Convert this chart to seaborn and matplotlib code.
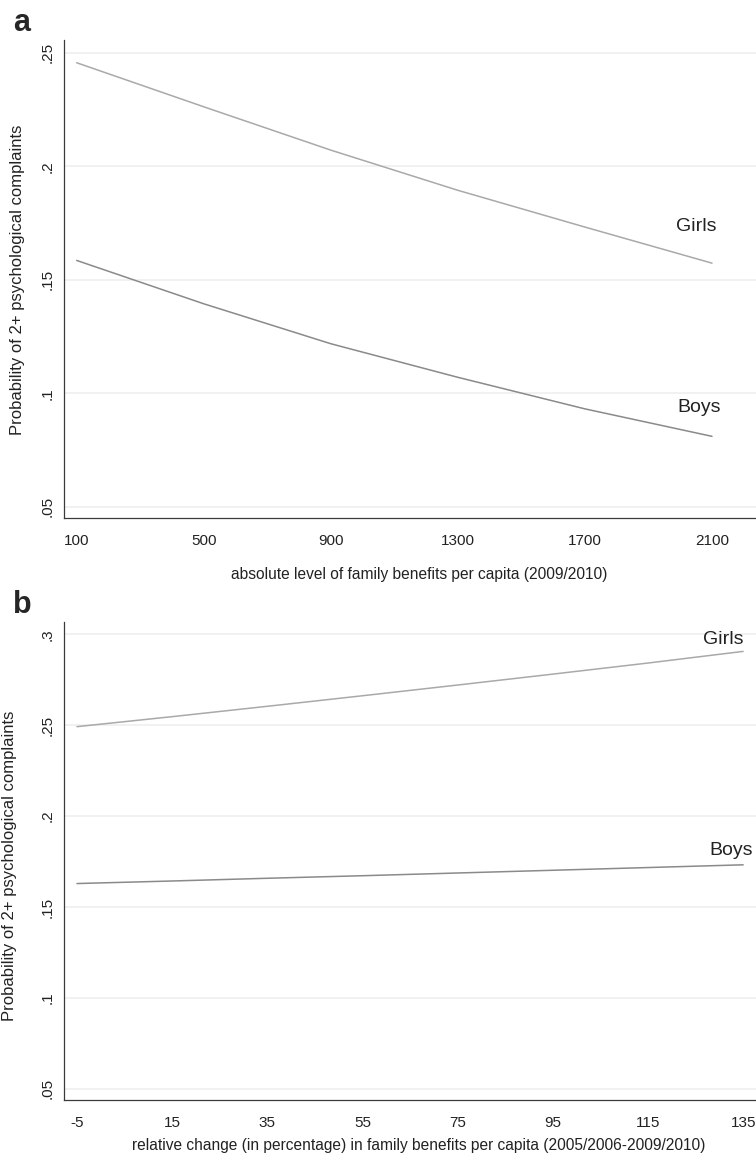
import pandas as pd
import seaborn as sns
import matplotlib.pyplot as plt

# panel a: absolute level of family benefits
benefit_level = [100, 500, 900, 1300, 1700, 2100]
girls_level = [0.2456, 0.2262, 0.2071, 0.1894, 0.1732, 0.1573]
boys_level = [0.1585, 0.1394, 0.1218, 0.1070, 0.0931, 0.0810]

# panel b: relative change in family benefits
benefit_change = [-5, 15, 35, 55, 75, 95, 115, 135]
girls_change = [0.2492, 0.2547, 0.2604, 0.2662, 0.2721, 0.2781, 0.2842, 0.2906]
boys_change = [0.1629, 0.1643, 0.1658, 0.1672, 0.1687, 0.1702, 0.1717, 0.1732]

yticks_a = [0.05, 0.10, 0.15, 0.20, 0.25]
ylabels_a = ['.05', '.1', '.15', '.2', '.25']
yticks_b = [0.05, 0.10, 0.15, 0.20, 0.25, 0.30]
ylabels_b = ['.05', '.1', '.15', '.2', '.25', '.3']

ylab = 'Probability of 2+ psychological complaints'
xlab_a = 'absolute level of family benefits per capita (2009/2010)'
xlab_b = 'relative change (in percentage) in family benefits per capita (2005/2006-2009/2010)'

df_a = pd.DataFrame({'x': benefit_level * 2,
                     'prob': girls_level + boys_level,
                     'sex': ['Girls'] * len(benefit_level) + ['Boys'] * len(benefit_level)})
df_b = pd.DataFrame({'x': benefit_change * 2,
                     'prob': girls_change + boys_change,
                     'sex': ['Girls'] * len(benefit_change) + ['Boys'] * len(benefit_change)})

sns.set_style('white')
plt.rcParams['font.family'] = ['Liberation Sans', 'DejaVu Sans']

pal = {'Girls': '#a9a9a9', 'Boys': '#8a8a8a'}

fig = plt.figure(figsize=(7.56, 11.61), dpi=100)
ax_a = fig.add_axes([0.0853, 0.5538, 0.9147, 0.4117])
ax_b = fig.add_axes([0.0853, 0.0525, 0.9147, 0.4118])


def style_axes(ax, yticks, ylabels, xticks, xlab):
    ax.grid(axis='y', color='#eeeeee', linewidth=1.1)
    ax.set_axisbelow(True)
    sns.despine(ax=ax)
    for s in ['left', 'bottom']:
        ax.spines[s].set_color('#3a3a3a')
        ax.spines[s].set_linewidth(0.9)
    ax.set_yticks(yticks)
    ax.set_yticklabels(ylabels, rotation=90, va='center')
    ax.set_xticks(xticks)
    ax.set_xticklabels([str(v) for v in xticks])
    ax.tick_params(axis='both', direction='out', length=5.8, width=0.75,
                   color='#3a3a3a', labelsize=11, labelcolor='#222222')
    ax.tick_params(axis='y', pad=1.5)
    ax.tick_params(axis='x', pad=6)
    ax.set_xlabel(xlab, fontsize=11.2, color='#222222')
    ax.set_ylabel(ylab, fontsize=12, color='#222222')


# panel a
sns.lineplot(data=df_a, x='x', y='prob', hue='sex', palette=pal,
             linewidth=1.1, legend=False, ax=ax_a)
style_axes(ax_a, yticks_a, ylabels_a, benefit_level, xlab_a)
ax_a.set_xlim(61.6, 2238.5)
ax_a.set_ylim(0.0450, 0.2556)
ax_a.xaxis.set_label_coords(0.5127, -0.1025)
ax_a.yaxis.set_label_coords(-0.057, 0.498)
ax_a.text(2050, 0.1734, 'Girls', fontsize=14, ha='center', va='center', color='#222222')
ax_a.text(2059, 0.0936, 'Boys', fontsize=14, ha='center', va='center', color='#222222')

# panel b
sns.lineplot(data=df_b, x='x', y='prob', hue='sex', palette=pal,
             linewidth=1.1, legend=False, ax=ax_b)
style_axes(ax_b, yticks_b, ylabels_b, benefit_change, xlab_b)
ax_b.set_xlim(-7.63, 137.7)
ax_b.set_ylim(0.0438, 0.3068)
ax_b.xaxis.set_label_coords(0.5127, -0.0795)
ax_b.yaxis.set_label_coords(-0.068, 0.49)
ax_b.text(130.8, 0.2974, 'Girls', fontsize=14, ha='center', va='center', color='#222222')
ax_b.text(132.5, 0.1813, 'Boys', fontsize=14, ha='center', va='center', color='#222222')

fig.text(13 / 756, 1 - 31 / 1161, 'a', fontsize=22, fontweight='bold', va='baseline')
fig.text(13 / 756, 1 - 613 / 1161, 'b', fontsize=22, fontweight='bold', va='baseline')

fig.savefig('out.png', dpi=100)
